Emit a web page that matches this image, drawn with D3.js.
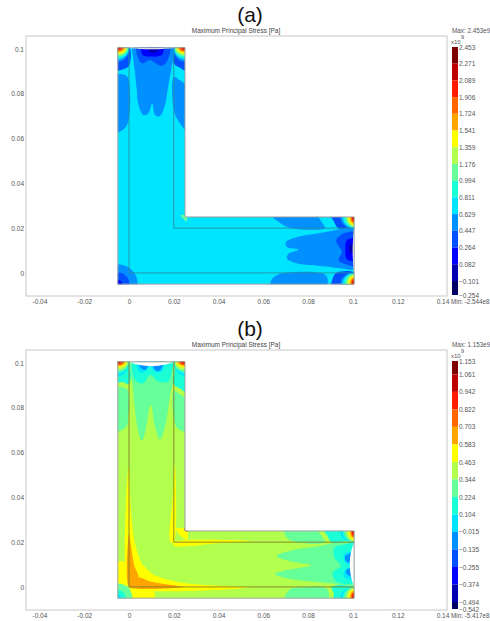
<!DOCTYPE html>
<html>
<head>
	<meta charset="utf-8">
	<title>Maximum Principal Stress</title>
	<style>
		html, body { margin: 0; background: white; }
		svg { display: block; }
		text { font-family: 'Liberation Sans', sans-serif; }
		.tick text { fill: #555; font-size: 6.5px; font-family: 'Liberation Sans', sans-serif; }
	</style>
</head>
<body>
<svg width="490" height="621"></svg>
<script src="https://d3js.org/d3.v7.min.js"></script>
<script>

	// legend colours, top band to bottom band
	const bandColors = ['#800000', '#bf0000', '#ff1a00', '#ff6600', '#ffa500', '#ffff00', '#b3ff4d',
		'#66ff99', '#1affd5', '#00e5ff', '#0090ff', '#0050ff', '#0000ff', '#0000b3', '#000066']

	const xTicks = [-0.04, -0.02, 0, 0.02, 0.04, 0.06, 0.08, 0.1, 0.12, 0.14]
	const yTicks = [0, 0.02, 0.04, 0.06, 0.08, 0.1]

	const legendA = [2.453, 2.271, 2.089, 1.906, 1.724, 1.541, 1.359, 1.176, 0.994, 0.811, 0.629, 0.447, 0.264, 0.082, -0.101, -0.254]
	const legendB = [1.153, 1.061, 0.942, 0.822, 0.703, 0.583, 0.463, 0.344, 0.224, 0.104, -0.015, -0.135, -0.255, -0.374, -0.494, -0.542]

	// the undeformed L, half of it is mirrored over x = y when drawn
	const lOutline = [[-0.005, 0.1005], [0.025, 0.1005], [0.025, 0.025], [0.1005, 0.025], [0.1005, -0.005], [-0.005, -0.005]]
	const innerLines = [
		[[0, 0], [0, 0.1005]],
		[[0.02, 0.02], [0.02, 0.1005]]
	]

	// white gap at the free end of the arm
	const gapA = [[0, 0.1005], [0.005, 0.1], [0.01, 0.0998], [0.015, 0.1], [0.02, 0.1005]]
	const gapB = [[0, 0.1005], [0.004, 0.0991], [0.01, 0.0983], [0.016, 0.0991], [0.02, 0.1005]]

	// contour patches for one arm, [band index, outline], painted in order
	const patchesA = [
		[10, [[-0.006, 0.088], [-0.002, 0.0885], [-0.0002, 0.0865], [-0.0002, 0.068], [-0.002, 0.0645], [-0.004, 0.0632], [-0.006, 0.0632]]],
		[10, [[0.02, 0.0875], [0.022, 0.0865], [0.026, 0.083], [0.026, 0.0634], [0.022, 0.068], [0.02, 0.0725]]],
		[11, [[-0.006, 0.101], [0, 0.101], [0, 0.0925], [-0.003, 0.0908], [-0.006, 0.0905]]],
		[11, [[0.02, 0.101], [0.026, 0.101], [0.026, 0.09], [0.023, 0.0915], [0.02, 0.0935]]],
		[10, [[0.0019, 0.101], [0.0019, 0.0958], [0.0026, 0.09], [0.0034, 0.0825], [0.0042, 0.0752], [0.0064, 0.0705], [0.0086, 0.0712], [0.0104, 0.0757], [0.0116, 0.0705], [0.0138, 0.07], [0.0161, 0.0752], [0.0176, 0.084], [0.019, 0.0915], [0.0201, 0.0973], [0.0201, 0.101]]],
		[11, [[0.0034, 0.101], [0.0042, 0.0958], [0.0057, 0.0936], [0.0094, 0.0951], [0.0109, 0.0943], [0.0146, 0.0925], [0.0176, 0.0958], [0.018, 0.101]]],
		[12, [[0.0057, 0.101], [0.0061, 0.0973], [0.0101, 0.0966], [0.0146, 0.0973], [0.0153, 0.101]]],
		[13, [[0.0085, 0.101], [0.009, 0.0988], [0.0125, 0.0985], [0.013, 0.101]]],
		[7, [[0.0235, 0.0259], [0.0256, 0.0255], [0.0256, 0.0229]]]
	]
	const patchesB = [
		[7, [[-0.006, 0.0885], [-0.003, 0.0893], [-0.0003, 0.0875], [-0.0003, 0.076], [-0.001, 0.072], [-0.003, 0.0702], [-0.006, 0.0695]]],
		[7, [[0.02, 0.0875], [0.022, 0.0865], [0.026, 0.083], [0.026, 0.0695], [0.022, 0.0705], [0.02, 0.075]]],
		[8, [[-0.006, 0.101], [0, 0.101], [0, 0.0905], [-0.003, 0.0915], [-0.006, 0.0912]]],
		[8, [[0.02, 0.101], [0.026, 0.101], [0.026, 0.0865], [0.023, 0.0885], [0.02, 0.0905]]],
		[7, [[0.0004, 0.101], [0.0004, 0.0976], [0.0015, 0.0909], [0.0024, 0.082], [0.0037, 0.0716], [0.0057, 0.0653], [0.0071, 0.0686], [0.0097, 0.0813], [0.0116, 0.0716], [0.0138, 0.0659], [0.0161, 0.0716], [0.0183, 0.085], [0.0201, 0.0939], [0.0201, 0.101]]],
		[8, [[0.0019, 0.101], [0.0027, 0.0924], [0.0064, 0.0909], [0.0094, 0.0946], [0.0131, 0.0917], [0.0176, 0.0917], [0.019, 0.0961], [0.0195, 0.101]]],
		[9, [[0.0034, 0.101], [0.0046, 0.0961], [0.0071, 0.0961], [0.0094, 0.0984], [0.0116, 0.0961], [0.0146, 0.0961], [0.0153, 0.101]]],
		[10, [[0.0045, 0.101], [0.0055, 0.0975], [0.0075, 0.097], [0.0085, 0.101]]],
		[10, [[0.0105, 0.101], [0.0115, 0.097], [0.0135, 0.0965], [0.0155, 0.101]]],
		// corner build up, x = y side gets the mirror
		[5, [[-0.006, 0.0105], [-0.003, 0.0115], [-0.0003, 0.0095], [-0.0003, 0.001], [-0.004, 0.001], [-0.006, 0.002]]],
		[5, [[-0.0002, 0.054], [0.0012, 0.03], [0.0027, 0.0194], [0.0057, 0.0105], [0.0078, 0.0078], [0, 0]]],
		[4, [[0, 0.024], [0.0012, 0.0164], [0.0024, 0.0095], [0.0042, 0.0042], [0, 0]]],
		[5, [[0.0185, 0.02], [0.02, 0.02], [0.0205, 0.055], [0.0195, 0.04]]],
		[5, [[0.021, 0.0261], [0.0256, 0.0255], [0.0255, 0.0218], [0.0235, 0.0225]]],
		[3, [[0.0245, 0.0262], [0.0256, 0.0256], [0.0256, 0.0245]]]
	]

	// rainbow at the arm tips: band index, radius along the end, radius along the arm
	const tipBandsA = [[10, 0.0052, 0.0062], [9, 0.005, 0.0052], [8, 0.0048, 0.0045], [7, 0.0046, 0.0038], [6, 0.0042, 0.0032],
		[5, 0.0037, 0.0026], [4, 0.0031, 0.002], [3, 0.0026, 0.0014], [2, 0.0021, 0.001], [1, 0.0013, 0.0006]]
	const tipBandsB = [[9, 0.005, 0.0062], [8, 0.005, 0.0052], [7, 0.0048, 0.0045], [6, 0.0046, 0.0036],
		[5, 0.004, 0.0026], [4, 0.0033, 0.002], [3, 0.0028, 0.0014], [2, 0.0022, 0.001], [1, 0.0012, 0.0006]]
	// the outer corner at the bend: band index, radius
	const bendBandsA = [[10, 0.0089], [11, 0.0052], [12, 0.0018]]
	const bendBandsB = [[7, 0.0065], [8, 0.0036], [9, 0.0015]]

	let svg = d3.select('svg')
	let swap = p => [p[1], p[0]]

	function drawPanel(cfg) {
		let x = d3.scaleLinear().domain([-0.046, 0.142]).range([26, 447])
		let y = d3.scaleLinear().domain([-0.0103, 0.1058]).range([cfg.top + 260, cfg.top])
		let g = svg.append('g')

		g.append('text')
			.attr('x', 250).attr('y', cfg.top - 14)
			.attr('text-anchor', 'middle')
			.style('font-size', '21px')
			.style('fill', '#111')
			.text(cfg.letter)

		g.append('text')
			.attr('x', 236).attr('y', cfg.top - 3)
			.attr('text-anchor', 'middle')
			.style('font-size', '6.5px')
			.style('fill', '#444')
			.text('Maximum Principal Stress [Pa]')

		g.append('rect')
			.attr('x', 26).attr('y', cfg.top)
			.attr('width', 421).attr('height', 260)
			.style('fill', 'none')
			.style('stroke', '#c8c8c8')

		let xAxis = g.append('g')
			.attr('transform', `translate(0,${cfg.top + 260})`)
			.call(d3.axisBottom(x).tickValues(xTicks).tickSize(0).tickPadding(3).tickFormat(d => d))
		let yAxis = g.append('g')
			.attr('transform', 'translate(26,0)')
			.call(d3.axisLeft(y).tickValues(yTicks).tickSize(0).tickPadding(2).tickFormat(d => d))
		xAxis.select('.domain').remove()
		yAxis.select('.domain').remove()

		let line = d3.line().x(d => x(d[0])).y(d => y(d[1]))
		let blob = d3.line().x(d => x(d[0])).y(d => y(d[1])).curve(d3.curveCatmullRomClosed.alpha(0.5))

		let clipId = 'clip-' + cfg.id
		g.append('clipPath').attr('id', clipId)
			.append('path')
			.attr('d', line(lOutline) + 'Z')

		let body = g.append('g').attr('clip-path', `url(#${clipId})`)
		body.append('path')
			.attr('d', line(lOutline) + 'Z')
			.style('fill', bandColors[cfg.base])

		cfg.patches.forEach(p => {
			[p[1], p[1].map(swap)].forEach(pts => {
				body.append('path')
					.attr('d', blob(pts))
					.style('fill', bandColors[p[0]])
			})
		})

		// both outer corners of each arm tip
		let tips = [[-0.005, 0.1005, false], [0.025, 0.1005, false], [0.1005, -0.005, true], [0.1005, 0.025, true]]
		tips.forEach(t => {
			cfg.tipBands.forEach(b => {
				body.append('ellipse')
					.attr('cx', x(t[0])).attr('cy', y(t[1]))
					.attr('rx', x(t[2] ? b[2] : b[1]) - x(0))
					.attr('ry', y(0) - y(t[2] ? b[1] : b[2]))
					.style('fill', bandColors[b[0]])
			})
		})

		cfg.bendBands.forEach(b => {
			body.append('ellipse')
				.attr('cx', x(-0.005)).attr('cy', y(-0.005))
				.attr('rx', x(b[1]) - x(0))
				.attr('ry', y(0) - y(b[1]))
				.style('fill', bandColors[b[0]])
		})

		// gap at the free ends, the tip pulls in
		let gapLine = d3.line().x(d => x(d[0])).y(d => y(d[1])).curve(d3.curveBasis)
		;[cfg.gap, cfg.gap.map(swap)].forEach(pts => {
			body.append('path')
				.attr('d', gapLine(pts) + 'Z')
				.style('fill', 'white')
		})

		g.append('path')
			.attr('d', line(lOutline) + 'Z')
			.style('fill', 'none')
			.style('stroke', '#a0a0a0')
			.style('stroke-width', 1)

		innerLines.forEach(l => {
			[l, l.map(swap)].forEach(pts => {
				g.append('path')
					.attr('d', line(pts))
					.style('fill', 'none')
					.style('stroke', cfg.lineColor)
					.style('stroke-width', 0.9)
			})
		})

		// colour bar
		let legendScale = d3.scaleLinear()
			.domain([cfg.legend[0], cfg.legend[cfg.legend.length - 1]])
			.range([cfg.top + 11, cfg.top + 259])

		g.selectAll('.band')
			.data(d3.pairs(cfg.legend))
			.join('rect')
			.attr('x', 452)
			.attr('width', 6)
			.attr('y', d => legendScale(d[0]))
			.attr('height', d => legendScale(d[1]) - legendScale(d[0]))
			.style('fill', (d, i) => bandColors[i])

		let legendAxis = g.append('g')
			.attr('transform', 'translate(458,0)')
			.call(d3.axisRight(legendScale).tickValues(cfg.legend).tickSize(0).tickPadding(1).tickFormat(d3.format('.3f')))
		legendAxis.select('.domain').remove()

		let small = (txt, px, py, size) => g.append('text')
			.attr('x', px).attr('y', py)
			.style('font-size', (size || 6) + 'px')
			.style('fill', '#555')
			.text(txt)

		small(cfg.maxLabel, 452, cfg.top - 3, 6.3)
		small(cfg.minLabel, 451, cfg.top + 268, 6.3)
		small('x10', 451, cfg.top + 8, 6)
		small('9', 461, cfg.top + 3, 5.5)
	}

	drawPanel({ id: 'a', letter: '(a)', top: 36, base: 9, lineColor: '#2a8f9f', patches: patchesA, tipBands: tipBandsA, bendBands: bendBandsA,
		gap: gapA, legend: legendA, maxLabel: 'Max: 2.453e9', minLabel: 'Min: -2.544e8' })
	drawPanel({ id: 'b', letter: '(b)', top: 350, base: 6, lineColor: '#857a2a', patches: patchesB, tipBands: tipBandsB, bendBands: bendBandsB,
		gap: gapB, legend: legendB, maxLabel: 'Max: 1.153e9', minLabel: 'Min: -5.417e8' })

</script>
</body>
</html>
